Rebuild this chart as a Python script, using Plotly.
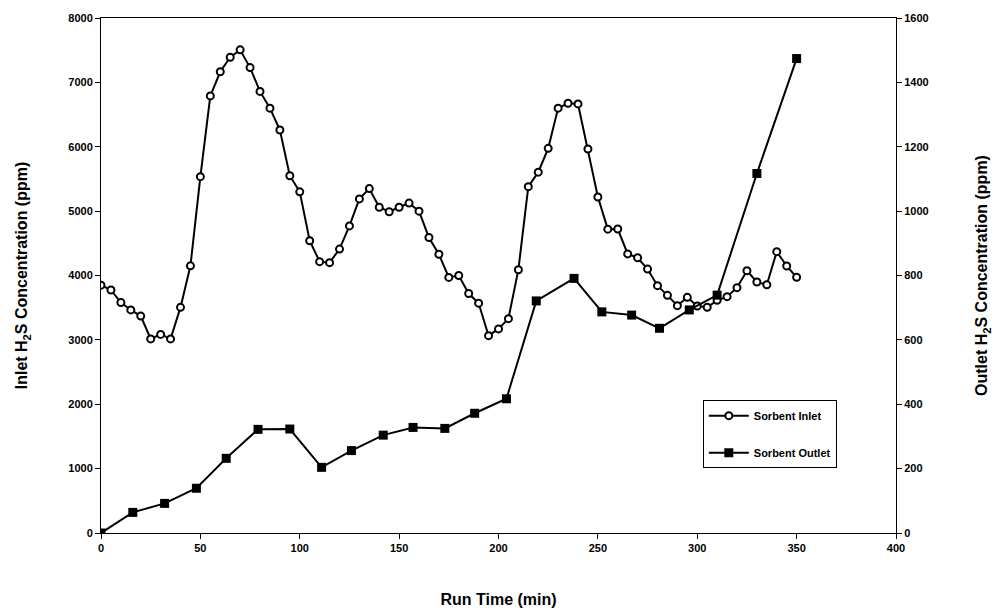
import plotly.graph_objects as go

inlet_time = [0, 5, 10, 15, 20, 25, 30, 35, 40, 45, 50, 55, 60, 65, 70, 75, 80, 85, 90, 95,
              100, 105, 110, 115, 120, 125, 130, 135, 140, 145, 150, 155, 160, 165, 170, 175,
              180, 185, 190, 195, 200, 205, 210, 215, 220, 225, 230, 235, 240, 245, 250, 255,
              260, 265, 270, 275, 280, 285, 290, 295, 300, 305, 310, 315, 320, 325, 330, 335,
              340, 345, 350]
inlet_ppm = [3850, 3775, 3580, 3465, 3370, 3015, 3085, 3015, 3505, 4150, 5535, 6790, 7165, 7390,
             7505, 7230, 6860, 6600, 6260, 5550, 5300, 4540, 4215, 4200, 4410, 4770, 5190, 5350,
             5060, 4990, 5060, 5125, 5000, 4590, 4330, 3970, 4000, 3720, 3570, 3065, 3170, 3330,
             4090, 5380, 5605, 5975, 6600, 6675, 6665, 5965, 5220, 4720, 4722, 4335, 4276, 4100,
             3842, 3692, 3531, 3661, 3526, 3506, 3614, 3671, 3811, 4075, 3899, 3857, 4370, 4148,
             3972]

outlet_time = [0, 16, 32, 48, 63, 79, 95, 111, 126, 142, 157, 173, 188, 204, 219, 238, 252,
               267, 281, 296, 310, 330, 350]
outlet_ppm = [0, 64, 92, 139, 232, 322, 323, 204, 256, 304, 328, 325, 372, 417, 721, 791, 687,
              677, 636, 693, 739, 1117, 1474]

FONT = "Liberation Sans, Arial, sans-serif"

fig = go.Figure()
fig.add_trace(go.Scatter(
    x=inlet_time, y=inlet_ppm, name="Sorbent Inlet", mode="lines+markers",
    legendgroup="inlet",
    line=dict(color="black", width=2),
    marker=dict(symbol="circle", size=7, color="white", line=dict(color="black", width=2)),
))
fig.add_trace(go.Scatter(
    x=outlet_time, y=outlet_ppm, name="Sorbent Outlet", mode="lines+markers", yaxis="y2",
    legendgroup="outlet",
    line=dict(color="black", width=2),
    marker=dict(symbol="square", size=9, color="black"),
))

tickfont = dict(family=FONT, size=11, color="black", weight="bold")
titlefont = dict(family=FONT, size=16, color="black")

fig.update_layout(
    width=1001, height=616,
    margin=dict(l=101, r=105, t=18, b=83),
    paper_bgcolor="white", plot_bgcolor="white",
    font=dict(family=FONT, color="black"),
    showlegend=True,
    legend=dict(
        x=0.757, y=0.258, xanchor="left", yanchor="top",
        bgcolor="white", bordercolor="black", borderwidth=1,
        font=dict(family=FONT, size=11, color="black", weight="bold"),
        traceorder="grouped", tracegroupgap=18, itemwidth=40,
    ),
    xaxis=dict(
        range=[0, 400], dtick=50, tick0=0,
        showline=True, linecolor="black", linewidth=1, mirror=True,
        ticks="outside", ticklen=5, tickcolor="black",
        showgrid=False, zeroline=False,
        tickfont=tickfont,
        title=dict(text="<b>Run Time (min)</b>", font=titlefont, standoff=40),
    ),
    yaxis=dict(
        range=[0, 8000], dtick=1000,
        showline=True, linecolor="black", linewidth=1,
        ticks="outside", ticklen=5, tickcolor="black",
        showgrid=False, zeroline=False,
        tickfont=tickfont,
        title=dict(text="<b>Inlet H<sub>2</sub>S Concentration (ppm)</b>", font=titlefont, standoff=36),
    ),
    yaxis2=dict(
        range=[0, 1600], dtick=200, overlaying="y", side="right",
        showline=True, linecolor="black", linewidth=1,
        ticks="outside", ticklen=5, tickcolor="black",
        showgrid=False, zeroline=False,
        tickfont=tickfont,
        title=dict(text="<b>Outlet H<sub>2</sub>S Concentration (ppm)</b>", font=titlefont, standoff=48),
    ),
)

fig.write_html("out.html")
